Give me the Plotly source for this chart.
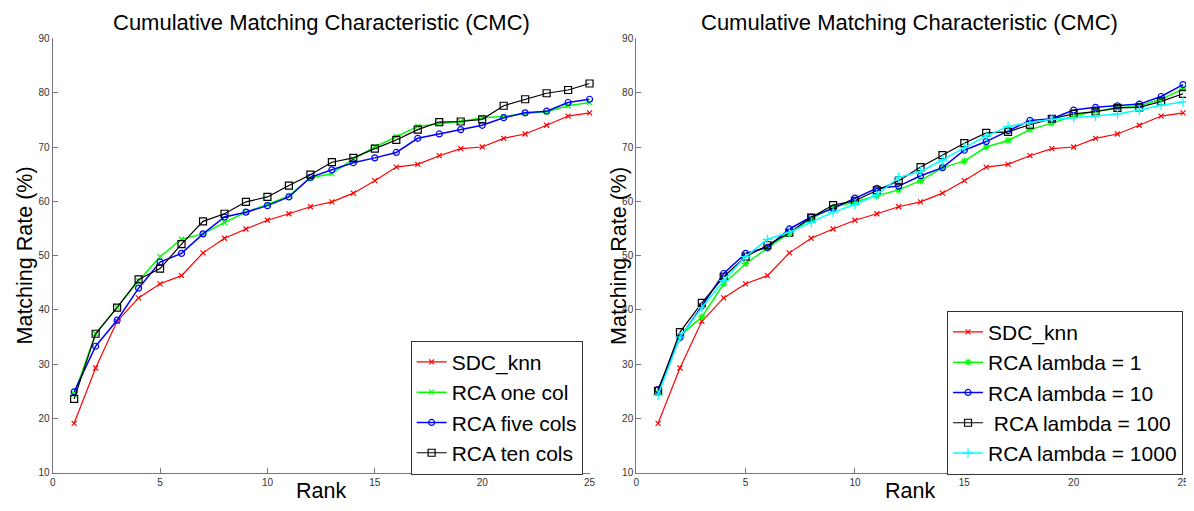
import plotly.graph_objects as go

ranks = list(range(1, 26))

sdc_knn = [19.1, 29.3, 37.9, 42.2, 44.8, 46.3, 50.5, 53.2, 54.9, 56.5, 57.7, 59.0, 59.9,
           61.5, 63.8, 66.3, 66.8, 68.4, 69.7, 70.0, 71.6, 72.4, 74.0, 75.7, 76.3]
rca_one_col = [24.5, 35.6, 40.5, 45.3, 49.8, 53.0, 54.0, 56.1, 58.0, 59.4, 61.0, 64.3, 65.1,
               67.8, 70.0, 71.9, 73.8, 74.3, 74.7, 75.4, 75.6, 76.2, 76.5, 77.6, 78.2]
rca_five_cols = [24.9, 33.3, 38.1, 44.0, 48.8, 50.4, 54.0, 57.1, 58.0, 59.2, 60.8, 64.4, 65.8,
                 67.1, 68.0, 69.0, 71.6, 72.4, 73.2, 74.0, 75.4, 76.3, 76.6, 78.2, 78.8]
rca_ten_cols = [23.6, 35.6, 40.4, 45.6, 47.6, 52.1, 56.3, 57.7, 59.9, 60.8, 62.9, 64.9, 67.2,
                68.0, 69.7, 71.3, 73.2, 74.6, 74.7, 75.1, 77.6, 78.8, 79.9, 80.5, 81.7]

rca_lambda_1 = [24.7, 35.2, 38.7, 44.8, 48.5, 51.3, 54.2, 56.8, 58.9, 59.9, 61.0, 62.1, 63.8,
                66.2, 67.4, 70.0, 71.2, 73.2, 74.4, 75.7, 76.6, 77.2, 77.6, 78.8, 80.7]
rca_lambda_10 = [25.3, 34.9, 40.7, 46.7, 50.4, 51.5, 54.9, 57.1, 58.7, 60.6, 62.4, 62.8, 64.7,
                 66.2, 69.4, 71.0, 73.0, 74.9, 75.2, 76.8, 77.3, 77.6, 77.9, 79.3, 81.5]
rca_lambda_100 = [25.1, 35.9, 41.3, 46.1, 49.8, 51.9, 54.2, 57.0, 59.3, 60.1, 62.0, 63.8, 66.3,
                  68.5, 70.7, 72.6, 72.8, 74.1, 75.2, 76.1, 76.5, 77.2, 77.3, 78.4, 79.8]
rca_lambda_1000 = [24.3, 35.0, 40.4, 45.4, 49.8, 53.0, 54.3, 56.1, 58.0, 59.4, 61.2, 64.4, 65.5,
                   67.6, 69.9, 72.0, 73.8, 74.5, 75.1, 75.4, 75.7, 76.1, 76.8, 77.7, 78.3]

x_ticks = [0, 5, 10, 15, 20, 25]
y_ticks = [10, 20, 30, 40, 50, 60, 70, 80, 90]
title_text = "Cumulative Matching Characteristic (CMC)"

# page body has an 8px margin (left/top)
PAD = 8
W, H = 1194 - PAD, 511 - PAD


def sx(s):
    return min(max((s - PAD) / W, 0.0), 1.0)


def sy(s):
    return min(max((H - (s - PAD)) / H, 0.0), 1.0)


fig = go.Figure()


def add(x, y, name, color, symbol, size, width, xa, ya, legend):
    fig.add_trace(go.Scatter(
        x=x, y=y, name=name, mode="lines+markers",
        line=dict(color=color, width=width),
        marker=dict(symbol=symbol, size=size, color=color,
                    line=dict(color=color, width=1.2)),
        xaxis=xa, yaxis=ya, legend=legend, cliponaxis=False))


add(ranks, sdc_knn, "SDC_knn", "#ff0000", "x-thin-open", 5, 1.2, "x", "y", "legend")
add(ranks, rca_one_col, "RCA one col", "#00ff00", "x-thin-open", 5, 1.5, "x", "y", "legend")
add(ranks, rca_five_cols, "RCA five cols", "#0000ff", "circle-open", 6, 1.5, "x", "y", "legend")
add(ranks, rca_ten_cols, "RCA ten cols", "#000000", "square-open", 7, 1.2, "x", "y", "legend")

add(ranks, sdc_knn, "SDC_knn", "#ff0000", "x-thin-open", 5, 1.2, "x2", "y2", "legend2")
add(ranks, rca_lambda_1, "RCA lambda = 1", "#00ff00", "asterisk-open", 6, 1.5, "x2", "y2", "legend2")
add(ranks, rca_lambda_10, "RCA lambda = 10", "#0000ff", "circle-open", 6, 1.5, "x2", "y2", "legend2")
add(ranks, rca_lambda_100, " RCA lambda = 100", "#000000", "square-open", 7, 1.2, "x2", "y2", "legend2")
add(ranks, rca_lambda_1000, "RCA lambda = 1000", "#00ffff", "cross-thin-open", 7, 1.5, "x2", "y2", "legend2")

yd = [sy(478), sy(34)]

axis_common = dict(
    showline=True, linecolor="#777777", linewidth=1,
    ticks="inside", ticklen=5, tickcolor="#777777", tickwidth=1,
    showgrid=False, zeroline=False, mirror=False,
    tickfont=dict(family="Liberation Sans, Arial", size=10, color="#333333"),
)

legend_font = dict(family="Liberation Sans, Arial", size=21, color="black")

fig.update_layout(
    width=W, height=H,
    paper_bgcolor="white", plot_bgcolor="white",
    margin=dict(l=0, r=0, t=0, b=0),
    xaxis=dict(domain=[sx(50), sx(591)], range=[0, 25], tickvals=x_ticks, anchor="y", **axis_common),
    yaxis=dict(domain=yd, range=[10, 90], tickvals=y_ticks, anchor="x", **axis_common),
    xaxis2=dict(domain=[sx(638), sx(1189)], range=[0, 25], tickvals=x_ticks, anchor="y2", **axis_common),
    yaxis2=dict(domain=yd, range=[10, 90], tickvals=y_ticks, anchor="x2", **axis_common),
    legend=dict(x=sx(584), xanchor="right", y=sy(480), yanchor="bottom",
                bordercolor="#333333", borderwidth=1, bgcolor="white",
                font=legend_font, tracegroupgap=0, itemwidth=30),
    legend2=dict(x=sx(1189), xanchor="right", y=sy(480), yanchor="bottom",
                 bordercolor="#333333", borderwidth=1, bgcolor="white",
                 font=legend_font, tracegroupgap=0, itemwidth=30),
    showlegend=True,
)

title_font = dict(family="Liberation Sans, Arial", size=22, color="black")
label_font = dict(family="Liberation Sans, Arial", size=21.5, color="black")
annotations = [
    dict(text=title_text, x=sx((50 + 591) / 2), y=sy(18), font=title_font),
    dict(text=title_text, x=sx((638 + 1189) / 2), y=sy(18), font=title_font),
    dict(text="Rank", x=sx((50 + 591) / 2), y=sy(497), font=label_font),
    dict(text="Rank", x=sx((638 + 1189) / 2), y=sy(497), font=label_font),
    dict(text="Matching Rate (%)", x=sx(22), y=sy(256), textangle=-90, font=label_font),
    dict(text="Matching Rate (%)", x=sx(620), y=sy(256), textangle=-90, font=label_font),
]
for a in annotations:
    a.update(xref="paper", yref="paper", showarrow=False, xanchor="center", yanchor="middle")
fig.update_layout(annotations=annotations)

fig.write_html("out.html")
